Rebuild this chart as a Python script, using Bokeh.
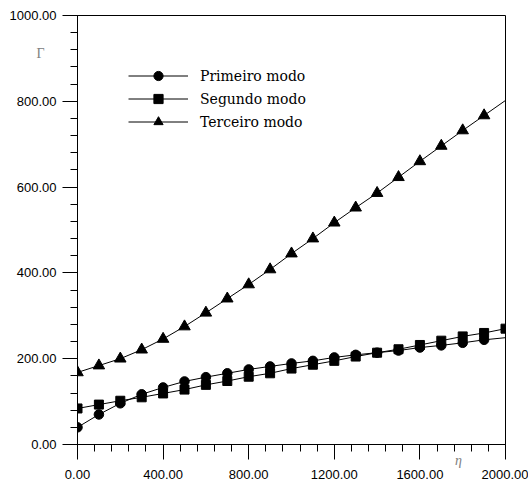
from bokeh.plotting import figure
from bokeh.models import (Range1d, FixedTicker, PrintfTickFormatter, LinearAxis,
                          Legend, LegendItem)
from bokeh.embed import file_html
from bokeh.resources import INLINE

# eta values (horizontal) and Gamma values for the three modes
eta = [0, 100, 200, 300, 400, 500, 600, 700, 800, 900, 1000,
       1100, 1200, 1300, 1400, 1500, 1600, 1700, 1800, 1900, 2000]
primeiro = [40, 70, 96, 117, 133, 147, 157, 166, 175, 182, 189,
            195, 203, 209, 214, 219, 226, 231, 237, 244, 249]
segundo = [84, 93, 102, 110, 119, 128, 139, 148, 158, 166, 177,
           186, 195, 205, 214, 222, 232, 242, 252, 260, 270]
terceiro = [168, 184, 200, 221, 246, 275, 307, 340, 373, 408, 445,
            480, 517, 552, 586, 623, 660, 696, 732, 767, 802]

x_major = [0, 400, 800, 1200, 1600, 2000]
x_minor = list(range(0, 2001, 80))
y_major = [0, 200, 400, 600, 800, 1000]
y_minor = list(range(0, 1001, 40))

names = ["Primeiro modo", "Segundo modo", "Terceiro modo"]
gamma_symbol = "Γ"
eta_symbol = "η"

p = figure(width=528, height=484, output_backend="svg", toolbar_location=None,
           x_range=Range1d(0, 2000), y_range=Range1d(0, 1000),
           min_border_left=77, min_border_right=23,
           min_border_top=15, min_border_bottom=40)

p.grid.visible = False
p.outline_line_color = "black"
p.outline_line_width = 1
p.background_fill_color = "white"
p.border_fill_color = "white"

for ax, major, minor in ((p.xaxis[0], x_major, x_minor), (p.yaxis[0], y_major, y_minor)):
    ax.ticker = FixedTicker(ticks=major, minor_ticks=minor)
    ax.formatter = PrintfTickFormatter(format="%.2f")
    ax.major_tick_out = 15
    ax.major_tick_in = 0
    ax.minor_tick_out = 7
    ax.minor_tick_in = 0
    ax.axis_line_color = "black"
    ax.major_tick_line_color = "black"
    ax.minor_tick_line_color = "black"
    ax.major_label_text_font = "Liberation Sans"
    ax.major_label_text_font_size = "13px"
    ax.major_label_text_color = "black"

p.yaxis[0].major_label_standoff = 6
p.xaxis[0].major_label_standoff = 10


def symbol_axis(pos, text, italic):
    # a bare axis that only carries one grey symbol next to the main axis
    return LinearAxis(ticker=FixedTicker(ticks=[pos], minor_ticks=[]),
                      major_label_overrides={pos: text},
                      axis_line_color=None, major_tick_line_color=None,
                      minor_tick_line_color=None,
                      major_tick_out=0, major_tick_in=0,
                      minor_tick_out=0, minor_tick_in=0,
                      major_label_text_font="Liberation Serif",
                      major_label_text_font_style="italic" if italic else "normal",
                      major_label_text_font_size="14px",
                      major_label_text_color="#808080")


gamma_axis = symbol_axis(912, gamma_symbol, False)
gamma_axis.major_label_standoff = -38
p.add_layout(gamma_axis, "left")

eta_axis = symbol_axis(1780, eta_symbol, True)
eta_axis.major_label_standoff = -29
p.add_layout(eta_axis, "below")

# curves: circles and triangles carry markers up to eta = 1900, squares to 2000
l1 = p.line(eta, primeiro, line_color="black", line_width=1)
m1 = p.scatter(eta[:-1], primeiro[:-1], marker="circle", size=9.5,
               fill_color="black", line_color="black")
l2 = p.line(eta, segundo, line_color="black", line_width=1)
m2 = p.scatter(eta, segundo, marker="square", size=9,
               fill_color="black", line_color="black")
l3 = p.line(eta, terceiro, line_color="black", line_width=1)
m3 = p.scatter(eta[:-1], terceiro[:-1], marker="triangle", size=11.5,
               fill_color="black", line_color="black")

legend = Legend(items=[LegendItem(label=names[0], renderers=[l1, m1]),
                       LegendItem(label=names[1], renderers=[l2, m2]),
                       LegendItem(label=names[2], renderers=[l3, m3])],
                location=(51, 311), padding=0, margin=0, spacing=0,
                glyph_width=60, glyph_height=23, label_height=23,
                label_standoff=12, border_line_alpha=0,
                background_fill_alpha=0,
                label_text_font="DejaVu Serif",
                label_text_font_size="14px", label_text_color="black")
p.add_layout(legend, "center")

open("out.html", "w").write(file_html(p, INLINE))
